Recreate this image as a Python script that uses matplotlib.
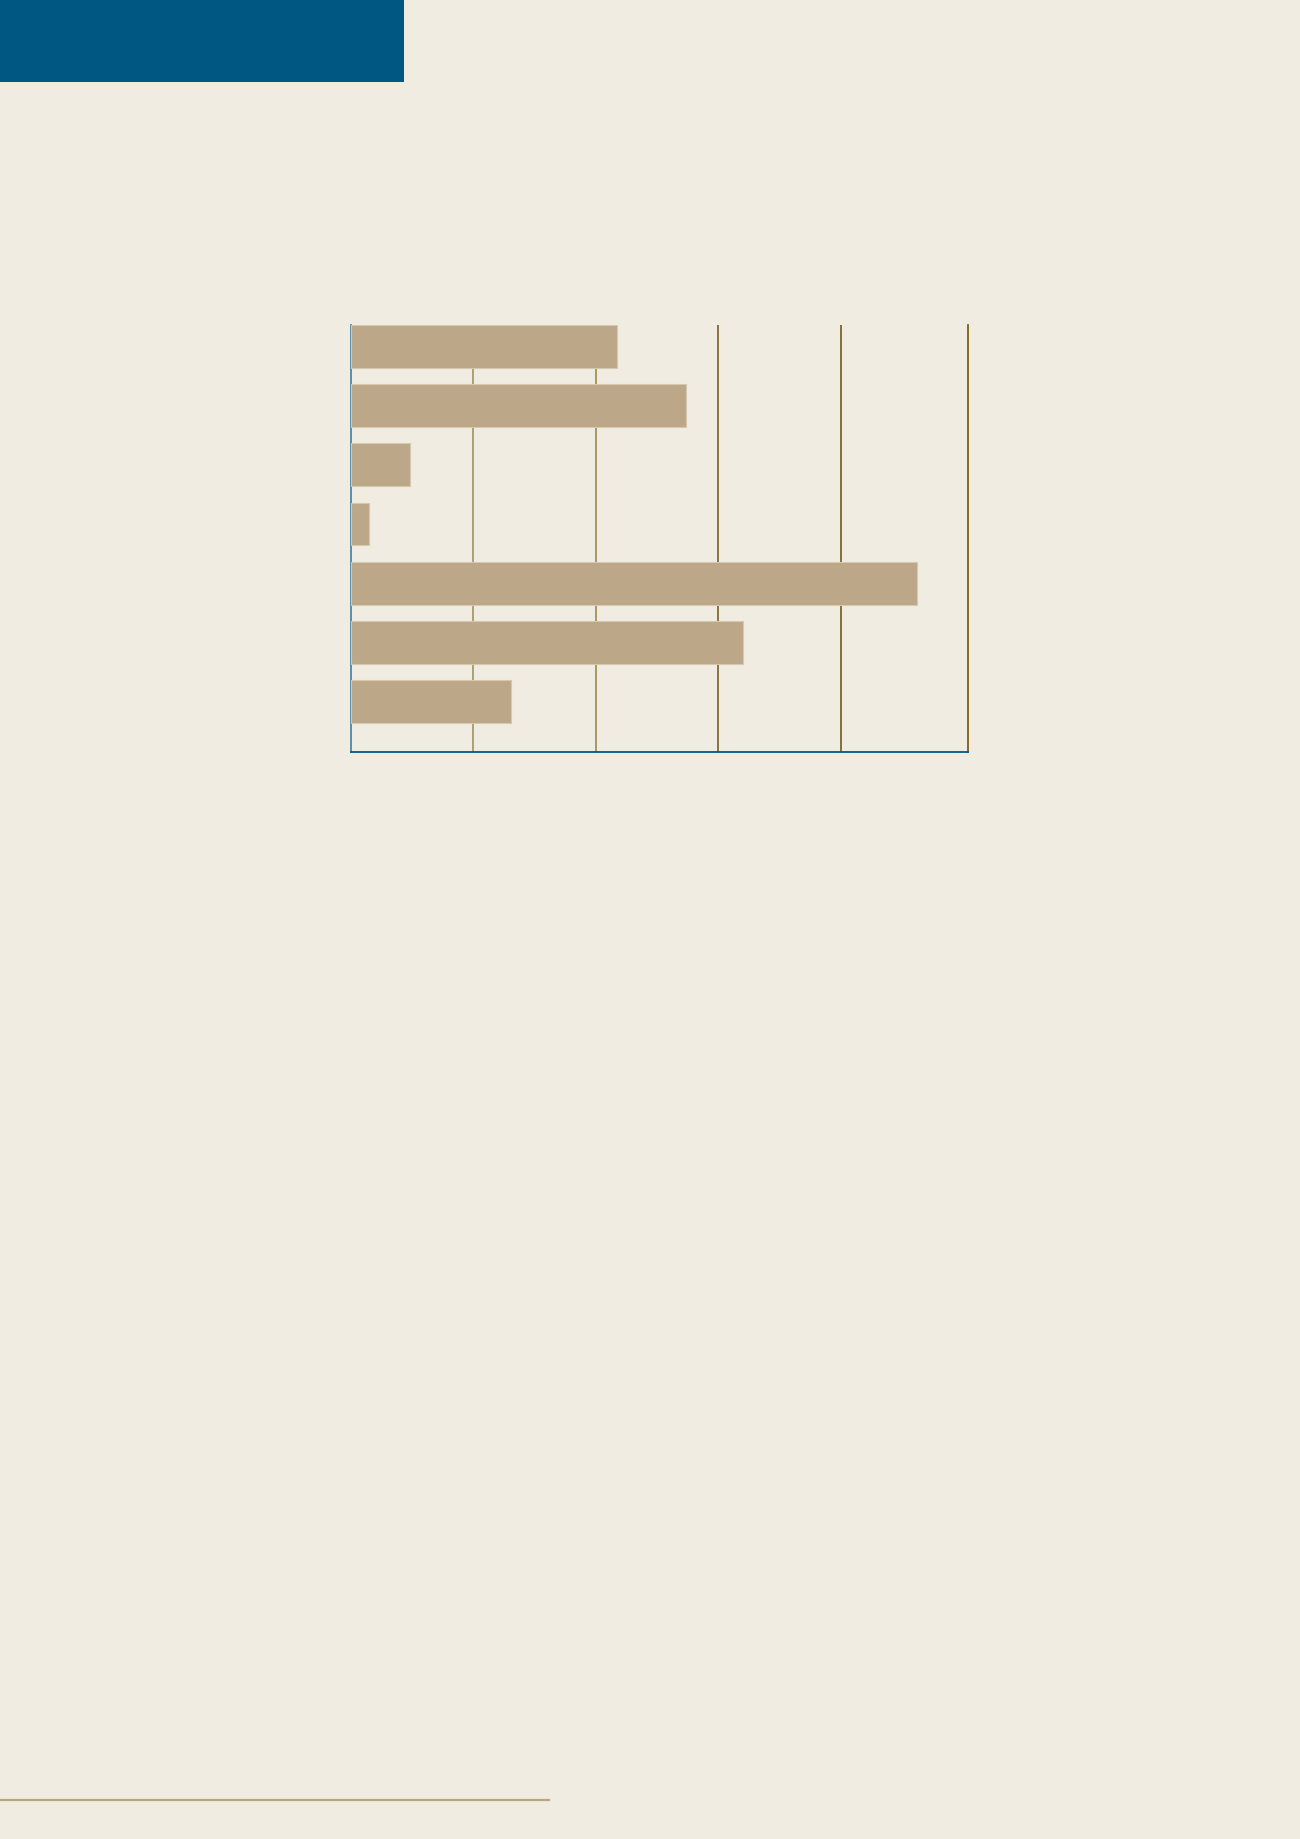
import matplotlib
matplotlib.use("Agg")
import matplotlib.pyplot as plt
from matplotlib.patches import Rectangle
from matplotlib.lines import Line2D

# bar values (no labels are printed on the chart)
categories = [0, 1, 2, 3, 4, 5, 6]
values = [2.17, 2.74, 0.48, 0.15, 4.62, 3.20, 1.31]
grid_ticks = [1, 2, 3, 4]

bg = "#f0ece1"
bar_color = "#bca888"
blue = "#005882"

fig = plt.figure(figsize=(13, 18.39), dpi=100)
fig.patch.set_facecolor(bg)

# blue header block and the thin rule at the foot of the page
fig.add_artist(Rectangle((0, 1 - 82 / 1839), 404 / 1300, 82 / 1839,
                         transform=fig.transFigure, facecolor=blue,
                         edgecolor="none"))
fig.add_artist(Line2D([0, 549 / 1300], [1 - 1800 / 1839] * 2,
                      transform=fig.transFigure, color="#b5a87a", lw=1.6))

ax = fig.add_axes([351 / 1300, 1 - 752 / 1839, 617 / 1300, 427 / 1839])
ax.set_facecolor(bg)
ax.set_axisbelow(True)

ax.barh(categories, values, height=0.725, color=bar_color,
        edgecolor="#d6c8ae", linewidth=0.8, zorder=3)

grid_colors = ["#a99866", "#a39058", "#806a30", "#7c6626"]
for t, c in zip(grid_ticks, grid_colors):
    ax.axvline(t, color=c, lw=1.3, zorder=1)

ax.set_xlim(0, 5.04)
ax.set_ylim(6.85, -0.36)

ax.spines["top"].set_visible(False)
ax.spines["left"].set_color("#4f86a6")
ax.spines["left"].set_linewidth(1.3)
ax.spines["bottom"].set_color(blue)
ax.spines["bottom"].set_linewidth(1.3)
ax.spines["right"].set_color("#7a6012")
ax.spines["right"].set_linewidth(1.3)

ax.set_xticks([])
ax.set_yticks([])

fig.savefig("out.png", dpi=100, facecolor=bg)
